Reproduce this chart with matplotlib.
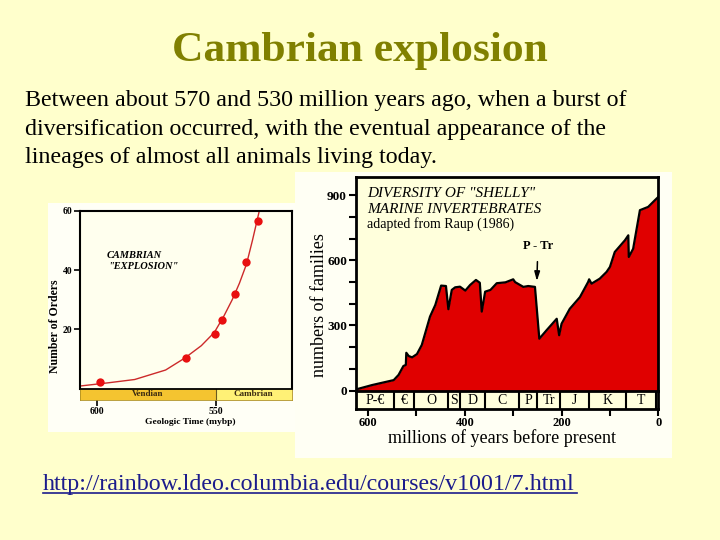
import matplotlib
matplotlib.use('Agg')
import matplotlib.pyplot as plt
from matplotlib.patches import Rectangle
from matplotlib.lines import Line2D
from matplotlib.ticker import MultipleLocator, FixedLocator

W, H = 720, 540
SERIF = ['Liberation Serif', 'DejaVu Serif']

# ---------------- slide text ----------------
title = "Cambrian explosion"
body_lines = [
    "Between about 570 and 530 million years ago, when a burst of",
    "diversification occurred, with the eventual appearance of the",
    "lineages of almost all animals living today.",
]
url = "http://rainbow.ldeo.columbia.edu/courses/v1001/7.html"

# ---------------- left chart data (Number of Orders) ----------------
orders_curve_mybp = [607, 595, 584, 571, 563, 556, 550.5, 546.5, 543, 540, 537, 534.5, 531.6]
orders_curve_n = [0.9, 2.0, 3.1, 6.3, 10.3, 14.5, 19.0, 24.5, 30.0, 35.5, 42.0, 50.0, 60.0]
orders_pts_mybp = [598.6, 562.6, 550.3, 547.1, 541.9, 537.4, 532.2]
orders_pts_n = [2.3, 10.5, 18.3, 23.3, 31.8, 42.8, 56.6]
orders_yticks = [20, 40, 60]
orders_xticks = [600, 550]
stage_names = ["Vendian", "Cambrian"]
stage_edges = [607, 550, 518]

# ---------------- right chart data (families) ----------------
div_mya = [625, 592, 547, 537, 527, 522, 521, 516, 509, 499, 489, 472, 461, 449, 439,
           434, 427, 420, 410, 399, 389, 377, 369, 365, 358, 347, 334, 316, 300, 296,
           279, 269, 255, 246, 231, 210, 205, 200, 183, 162, 145, 143, 138, 121, 107,
           100, 90, 69, 62, 61, 52, 38, 21, 7, 0]
div_families = [5, 25, 48, 72, 113, 118, 174, 159, 153, 168, 210, 341, 395, 484, 482,
                375, 464, 476, 479, 461, 487, 510, 497, 364, 456, 464, 495, 499, 513, 500,
                478, 482, 478, 239, 278, 331, 255, 308, 377, 431, 501, 513, 493, 516, 547,
                570, 639, 693, 716, 616, 654, 832, 847, 878, 893]
div_yticks = [0, 300, 600, 900]
div_xticks = [600, 400, 200, 0]
period_labels = ["P-€", "€", "O", "S", "D", "C", "P", "Tr", "J", "K", "T"]
period_edges = [625, 547, 505, 435, 410, 358, 287, 250, 203, 143, 66, 5, 0]


def rect(x0, y0, x1, y1):
    return [x0 / W, 1 - y1 / H, (x1 - x0) / W, (y1 - y0) / H]


def fx(x):
    return x / W


def fy(y):
    return 1 - y / H


fig = plt.figure(figsize=(7.2, 5.4), dpi=100, facecolor='#FFFFCC')

# image panels
fig.add_artist(Rectangle((fx(48), fy(432)), (300 - 48) / W, (432 - 203) / H,
                         transform=fig.transFigure, facecolor='#FFFFF6',
                         edgecolor='none', zorder=-10))
fig.add_artist(Rectangle((fx(295), fy(458)), (672 - 295) / W, (458 - 172) / H,
                         transform=fig.transFigure, facecolor='#FFFFF4',
                         edgecolor='none', zorder=-9))

# slide texts
fig.text(0.5, fy(61), title, ha='center', va='baseline', fontsize=31.3,
         fontweight='bold', color='#808000', family=SERIF)
for i, line in enumerate(body_lines):
    fig.text(fx(25), fy(106 + i * 28.5), line, ha='left', va='baseline',
             fontsize=17.3, color='black', family=SERIF)
fig.text(fx(43), fy(490), url, ha='left', va='baseline', fontsize=17.3,
         color='#1C1C8C', family=SERIF)
fig.add_artist(Line2D([fx(43), fx(577)], [fy(493), fy(493)], transform=fig.transFigure,
                      color='#1C1C8C', lw=1.2))

# ---------------- left chart ----------------
axL = fig.add_axes(rect(80, 210.7, 291.7, 388.7))
axL.set_facecolor('#FFFFEE')
axL.plot(orders_curve_mybp, orders_curve_n, color='#CC2A2A', lw=1.0)
axL.plot(orders_pts_mybp, orders_pts_n, 'o', color='#E81010', ms=6, mec='none')
axL.set_xlim(607, 518)
axL.set_ylim(0, 60)
for s in ['left', 'top', 'right']:
    axL.spines[s].set_linewidth(1.5)
    axL.spines[s].set_color('black')
axL.spines['bottom'].set_visible(False)
axL.set_yticks(orders_yticks)
axL.set_yticklabels([str(v) for v in orders_yticks], fontsize=7, fontweight='bold',
                    family=SERIF)
axL.tick_params(axis='y', direction='out', length=4, width=1.2, pad=1.5)
axL.tick_params(axis='x', bottom=False, labelbottom=False)
fig.text(fx(55), fy(326), "Number of Orders", rotation=90, ha='center', va='center',
         fontsize=8.5, fontweight='bold', family=SERIF)
fig.text(fx(106.7), fy(255), "CAMBRIAN", ha='left', va='center', fontsize=7.5,
         fontweight='bold', style='italic', family=SERIF)
fig.text(fx(108), fy(266.7), '"EXPLOSION"', ha='left', va='center', fontsize=7.5,
         fontweight='bold', style='italic', family=SERIF)

axLb = fig.add_axes(rect(80, 388.7, 291.7, 399.5))
axLb.set_xlim(607, 518)
axLb.set_ylim(0, 1)
stage_colors = ['#F4C430', '#FFF176']
for k, name in enumerate(stage_names):
    a, b = stage_edges[k], stage_edges[k + 1]
    axLb.axvspan(a, b, color=stage_colors[k], lw=0)
    axLb.text((a + b) / 2, 0.5, name, ha='center', va='center', fontsize=6.5,
              fontweight='bold', family=SERIF, color='#3a2a10')
axLb.axvline(stage_edges[1], color='#6a5a20', lw=0.8)
axLb.spines['top'].set_linewidth(1.3)
for s in ['left', 'right', 'bottom']:
    axLb.spines[s].set_linewidth(0.6)
    axLb.spines[s].set_color('#b09020')
axLb.set_yticks([])
axLb.set_xticks(orders_xticks)
axLb.set_xticklabels([str(v) for v in orders_xticks], fontsize=7, fontweight='bold',
                     family=SERIF)
axLb.tick_params(axis='x', direction='out', length=4, width=1.2, pad=1.5)
fig.text(fx(190), fy(422.3), "Geologic Time (mybp)", ha='center', va='center',
         fontsize=6.8, fontweight='bold', family=SERIF)

# ---------------- right chart ----------------
axR = fig.add_axes(rect(356, 177, 658.3, 390.5))
axR.set_facecolor('#FFFFDC')
axR.fill_between(div_mya, 0, div_families, color='#E00000', lw=0)
axR.plot(div_mya, div_families, color='black', lw=1.6)
axR.set_xlim(625, 0)
axR.set_ylim(0, 985)
for s in axR.spines.values():
    s.set_linewidth(2)
axR.spines['bottom'].set_visible(False)
axR.set_yticks(div_yticks)
axR.yaxis.set_minor_locator(MultipleLocator(100))
axR.set_yticklabels([str(v) for v in div_yticks], fontsize=9.5, fontweight='bold',
                    family=SERIF)
axR.tick_params(axis='y', which='both', direction='out', length=5, width=1.5, pad=1.5)
axR.tick_params(axis='x', which='both', bottom=False, labelbottom=False)

fig.text(fx(366.7), fy(193.3), 'DIVERSITY OF "SHELLY"', ha='left', va='center',
         fontsize=11, style='italic', family=SERIF)
fig.text(fx(366.7), fy(209.3), 'MARINE INVERTEBRATES', ha='left', va='center',
         fontsize=11, style='italic', family=SERIF)
fig.text(fx(366.7), fy(224.3), 'adapted from Raup (1986)', ha='left', va='center',
         fontsize=10, family=SERIF)
axR.annotate('P - Tr', xy=(251, 505), xytext=(249, 667), ha='center', va='center',
             fontsize=9, fontweight='bold', family=SERIF,
             arrowprops=dict(arrowstyle='-|>,head_length=0.6,head_width=0.18',
                             color='black', lw=1.1, shrinkA=5, shrinkB=0))

axRb = fig.add_axes(rect(356, 390.5, 658.3, 409))
axRb.set_facecolor('#FFFFDC')
axRb.set_xlim(625, 0)
axRb.set_ylim(0, 1)
for e in period_edges[1:-1]:
    axRb.axvline(e, color='black', lw=1.5)
for k, lab in enumerate(period_labels):
    a, b = period_edges[k], period_edges[k + 1]
    axRb.text((a + b) / 2, 0.48, lab, ha='center', va='center', fontsize=10,
              family=SERIF)
for s in axRb.spines.values():
    s.set_linewidth(2)
axRb.set_yticks([])
axRb.set_xticks(div_xticks)
axRb.xaxis.set_minor_locator(FixedLocator([500, 300, 100]))
axRb.set_xticklabels([str(v) for v in div_xticks], fontsize=9, fontweight='bold',
                     family=SERIF)
axRb.tick_params(axis='x', which='both', direction='out', length=5, width=1.5, pad=1)
fig.text(fx(501.7), fy(438.5), "millions of years before present", ha='center',
         va='center', fontsize=13, family=SERIF)
fig.text(fx(320), fy(305), "numbers of families", rotation=90, ha='center',
         va='center', fontsize=13, family=SERIF)

fig.savefig('out.png', dpi=100, facecolor=fig.get_facecolor())
